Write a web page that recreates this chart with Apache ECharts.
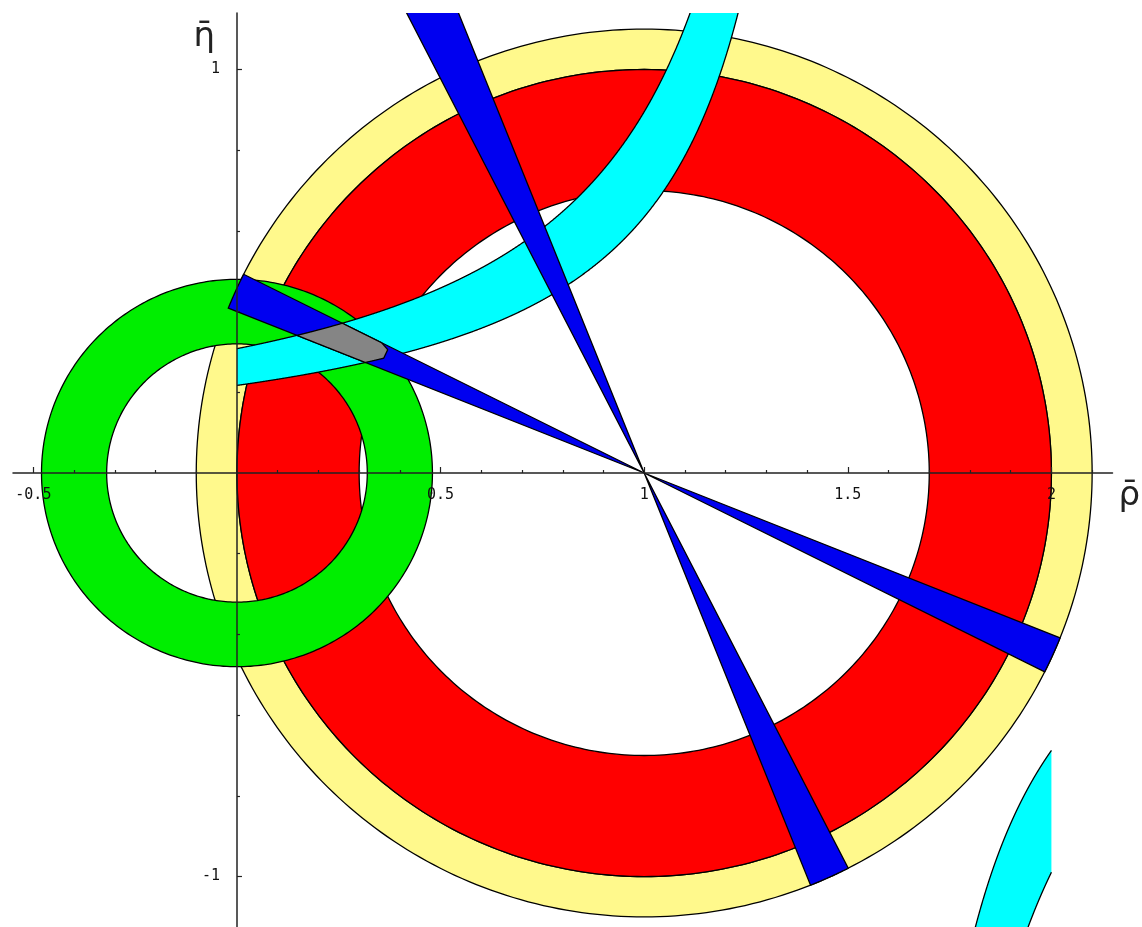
<!DOCTYPE html>
<html>
<head>
<meta charset="utf-8">
<script src="https://cdn.jsdelivr.net/npm/echarts@6/dist/echarts.min.js"></script>
<style>
html,body{margin:0;padding:0;background:#ffffff;}
#main{width:1142px;height:927px;}
</style>
</head>
<body>
<div id="main"></div>
<script>
// ---------- axes ----------
const xRange = [-0.55, 2.15];
const yRange = [-1.13, 1.14];
const xLabelValues = [-0.5, 0.5, 1, 1.5, 2];
const xTickLabels = ['-0.5', '0.5', '1', '1.5', '2'];
const xMajorTicks = [-0.5, 0.5, 1, 1.5, 2];
const xMinorTicks = [-0.4, -0.3, -0.2, -0.1, 0.1, 0.2, 0.3, 0.4, 0.6, 0.7, 0.8, 0.9, 1.1, 1.2, 1.3, 1.4, 1.6, 1.7, 1.8, 1.9, 2.1];
const yLabelValues = [-1, 1];
const yTickLabels = ['-1', '1'];
const yMajorTicks = [-1, 1];
const yMinorTicks = [-0.8, -0.6, -0.4, -0.2, 0.2, 0.4, 0.6, 0.8];
const xAxisName = '\u03C1\u0304';
const yAxisName = '\u03B7\u0304';

// ---------- constraint regions ----------
// rings: [centre rho, centre eta, inner radius, outer radius]
const yellowRing = [1.0, 0.0, 1.0, 1.1];
const redRing = [1.0, 0.0, 0.70, 1.0];
const greenRing = [0.0, 0.0, 0.32, 0.48];
// wedges: [apex rho, apex eta, angle from (deg), angle to (deg), length forward, length backward]
const shallowWedge = [1.0, 0.0, 153.4, 158.2, 1.1, 1.1];
const steepWedge = [1.0, 0.0, 111.8, 117.1, 1.5, 1.1];
// hyperbolic band  eta * (a - rho) = c ; edges [a, c]
const epsKLower = [1.52, 0.33];
const epsKUpper = [1.525, 0.47];
const epsKRhoRange = [0.0, 2.0];

const COL = {
  yellow: '#FFF98C',
  red: '#FF0000',
  green: '#00EE00',
  cyan: '#00FFFF',
  blue: '#0000F0',
  grey: '#858585',
  edge: '#000000'
};
const EDGE_W = 1.3;

// ---------- layout ----------
const W = 1142, H = 927;
const GRID = { left: 13, right: 29.5, top: 13, bottom: -2 };
const gridW = W - GRID.left - GRID.right;
const gridH = H - GRID.top - GRID.bottom;
// axes cross at the origin: shift them from the grid edges onto rho = 0 / eta = 0
const xAxisOffset = -gridH * (0 - yRange[0]) / (yRange[1] - yRange[0]);
const yAxisOffset = -gridW * (0 - xRange[0]) / (xRange[1] - xRange[0]);

function fmt(p){ return p[0].toFixed(2) + ' ' + p[1].toFixed(2); }

function ringSeries(name, ring, color){
  return {
    type: 'custom', name: name, clip: true, silent: true,
    data: [ring],
    renderItem: function(params, api){
      const cx = api.value(0), cy = api.value(1), r0 = api.value(2), r1 = api.value(3);
      const N = 360;
      let d = '';
      for (let i = 0; i < N; i++){
        const t = 2 * Math.PI * i / N;
        d += (i ? 'L' : 'M') + fmt(api.coord([cx + r1 * Math.cos(t), cy + r1 * Math.sin(t)]));
      }
      d += 'Z';
      for (let i = 0; i < N; i++){
        const t = -2 * Math.PI * i / N;
        d += (i ? 'L' : 'M') + fmt(api.coord([cx + r0 * Math.cos(t), cy + r0 * Math.sin(t)]));
      }
      d += 'Z';
      return { type: 'path', shape: { pathData: d }, style: { fill: color, stroke: COL.edge, lineWidth: EDGE_W } };
    }
  };
}

function hyperPoints(api, edge, rhoFrom, rhoTo, n){
  const a = edge[0], c = edge[1];
  const pts = [];
  for (let i = 0; i <= n; i++){
    const r = rhoFrom + (rhoTo - rhoFrom) * i / n;
    pts.push(api.coord([r, c / (a - r)]));
  }
  return pts;
}

const epsKSeries = {
  type: 'custom', name: 'epsK', clip: true, silent: true,
  data: [[epsKLower[0], epsKLower[1], epsKUpper[0], epsKUpper[1]]],
  renderItem: function(params, api){
    const lo = [api.value(0), api.value(1)];
    const hi = [api.value(2), api.value(3)];
    const cap = 1.6; // beyond the plotted eta range, clipped away
    const n = 1500;
    const uLo = hyperPoints(api, lo, epsKRhoRange[0], lo[0] - lo[1] / cap, n);
    const uHi = hyperPoints(api, hi, epsKRhoRange[0], hi[0] - hi[1] / cap, n);
    const dLo = hyperPoints(api, lo, lo[0] + lo[1] / cap, epsKRhoRange[1], n);
    const dHi = hyperPoints(api, hi, hi[0] + hi[1] / cap, epsKRhoRange[1], n);
    const fillStyle = { fill: COL.cyan, stroke: null, lineWidth: 0 };
    const lineStyle = { fill: null, stroke: COL.edge, lineWidth: EDGE_W };
    return {
      type: 'group',
      children: [
        { type: 'polygon', shape: { points: uLo.concat(uHi.slice().reverse()) }, style: fillStyle },
        { type: 'polygon', shape: { points: dLo.concat(dHi.slice().reverse()) }, style: fillStyle },
        { type: 'polyline', shape: { points: uLo }, style: lineStyle },
        { type: 'polyline', shape: { points: uHi }, style: lineStyle },
        { type: 'polyline', shape: { points: dLo }, style: lineStyle },
        { type: 'polyline', shape: { points: dHi }, style: lineStyle }
      ]
    };
  }
};

const wedgeSeries = {
  type: 'custom', name: 'wedges', clip: true, silent: true,
  data: [shallowWedge, steepWedge],
  renderItem: function(params, api){
    const ax = api.value(0), ay = api.value(1);
    const a1 = api.value(2) * Math.PI / 180, a2 = api.value(3) * Math.PI / 180;
    const Lf = api.value(4), Lb = api.value(5);
    const M = 40;
    const pts = [api.coord([ax, ay])];
    for (let i = 0; i <= M; i++){
      const t = a1 + (a2 - a1) * i / M;
      pts.push(api.coord([ax + Lf * Math.cos(t), ay + Lf * Math.sin(t)]));
    }
    pts.push(api.coord([ax, ay]));
    for (let i = 0; i <= M; i++){
      const t = a1 + Math.PI + (a2 - a1) * i / M;
      pts.push(api.coord([ax + Lb * Math.cos(t), ay + Lb * Math.sin(t)]));
    }
    return { type: 'polygon', shape: { points: pts }, style: { fill: COL.blue, stroke: COL.edge, lineWidth: EDGE_W } };
  }
};

// overlap of all constraints (upper half plane), built by vertical slicing
const overlapSeries = {
  type: 'custom', name: 'overlap', clip: true, silent: true,
  data: [[0]],
  renderItem: function(params, api){
    const w = shallowWedge;
    const tA = Math.tan(w[2] * Math.PI / 180), tB = Math.tan(w[3] * Math.PI / 180);
    const top = [], bot = [];
    const steps = 2000;
    for (let i = 0; i <= steps; i++){
      const r = -0.5 + 1.5 * i / steps;
      if (r >= epsKUpper[0] || r >= epsKLower[0]) continue;
      const b1 = tA * (r - w[0]) + w[1], b2 = tB * (r - w[0]) + w[1];
      let lo = Math.max(Math.min(b1, b2), epsKLower[1] / (epsKLower[0] - r));
      let hi = Math.min(Math.max(b1, b2), epsKUpper[1] / (epsKUpper[0] - r));
      const go = greenRing[3] * greenRing[3] - (r - greenRing[0]) * (r - greenRing[0]);
      if (go <= 0) continue;
      hi = Math.min(hi, greenRing[1] + Math.sqrt(go));
      const gi = greenRing[2] * greenRing[2] - (r - greenRing[0]) * (r - greenRing[0]);
      if (gi > 0) lo = Math.max(lo, greenRing[1] + Math.sqrt(gi));
      const ro = redRing[3] * redRing[3] - (r - redRing[0]) * (r - redRing[0]);
      if (ro <= 0) continue;
      hi = Math.min(hi, redRing[1] + Math.sqrt(ro));
      const ri = redRing[2] * redRing[2] - (r - redRing[0]) * (r - redRing[0]);
      if (ri > 0) lo = Math.max(lo, redRing[1] + Math.sqrt(ri));
      if (hi > lo){
        top.push(api.coord([r, hi]));
        bot.push(api.coord([r, lo]));
      }
    }
    if (!top.length) return null;
    return { type: 'polygon', shape: { points: top.concat(bot.reverse()) }, style: { fill: COL.grey, stroke: COL.edge, lineWidth: EDGE_W } };
  }
};

function pickLabel(values, labels){
  return function(v){
    const num = (v !== null && typeof v === 'object') ? Number(v.value) : Number(v);
    for (let i = 0; i < values.length; i++){ if (Math.abs(values[i] - num) < 1e-9) return labels[i]; }
    return '';
  };
}

const axisColor = '#222222';
const labelFont = { fontFamily: 'DejaVu Sans Mono', fontSize: 15, color: '#111111' };

const option = {
  animation: false,
  backgroundColor: '#ffffff',
  grid: { left: GRID.left, right: GRID.right, top: GRID.top, bottom: GRID.bottom, containLabel: false, outerBoundsMode: 'none' },
  xAxis: [
    {
      type: 'value', min: xRange[0], max: xRange[1], z: 10, position: 'bottom', offset: xAxisOffset,
      axisLine: { show: true, onZero: false, lineStyle: { color: axisColor, width: 1.5 } },
      axisTick: { show: true, inside: true, length: 6, customValues: xMajorTicks, lineStyle: { color: axisColor, width: 1.2 } },
      axisLabel: Object.assign({ show: true, margin: 15, customValues: xLabelValues, formatter: pickLabel(xLabelValues, xTickLabels),
        showMinLabel: true, showMaxLabel: true, hideOverlap: false }, labelFont),
      splitLine: { show: false },
      name: xAxisName, nameLocation: 'end', nameGap: 6,
      nameTextStyle: { fontFamily: 'DejaVu Sans', fontSize: 34, color: '#222222', align: 'left', verticalAlign: 'top', padding: [6, 0, 0, 0] }
    },
    {
      type: 'value', min: xRange[0], max: xRange[1], z: 10, position: 'bottom', offset: xAxisOffset,
      axisLine: { show: false, onZero: false },
      axisTick: { show: true, inside: true, length: 3, customValues: xMinorTicks, lineStyle: { color: axisColor, width: 1.2 } },
      axisLabel: { show: false },
      splitLine: { show: false }
    }
  ],
  yAxis: [
    {
      type: 'value', min: yRange[0], max: yRange[1], z: 10, position: 'left', offset: yAxisOffset,
      axisLine: { show: true, onZero: false, lineStyle: { color: axisColor, width: 1.5 } },
      axisTick: { show: true, inside: true, length: 5, customValues: yMajorTicks, lineStyle: { color: axisColor, width: 1.2 } },
      axisLabel: Object.assign({ show: true, margin: 17, customValues: yLabelValues, formatter: pickLabel(yLabelValues, yTickLabels),
        showMinLabel: true, showMaxLabel: true, hideOverlap: false }, labelFont),
      splitLine: { show: false },
      name: yAxisName, nameLocation: 'end', nameGap: -7,
      nameTextStyle: { fontFamily: 'DejaVu Sans', fontSize: 34, color: '#222222', align: 'right', verticalAlign: 'top', padding: [0, 22, 0, 0] }
    },
    {
      type: 'value', min: yRange[0], max: yRange[1], z: 10, position: 'left', offset: yAxisOffset,
      axisLine: { show: false, onZero: false },
      axisTick: { show: true, inside: true, length: 3, customValues: yMinorTicks, lineStyle: { color: axisColor, width: 1.2 } },
      axisLabel: { show: false },
      splitLine: { show: false }
    }
  ],
  series: [
    ringSeries('yellow', yellowRing, COL.yellow),
    ringSeries('red', redRing, COL.red),
    ringSeries('green', greenRing, COL.green),
    epsKSeries,
    wedgeSeries,
    overlapSeries
  ]
};

const chart = echarts.init(document.getElementById('main'), null, { renderer: 'canvas' });
chart.setOption(option);
</script>
</body>
</html>
